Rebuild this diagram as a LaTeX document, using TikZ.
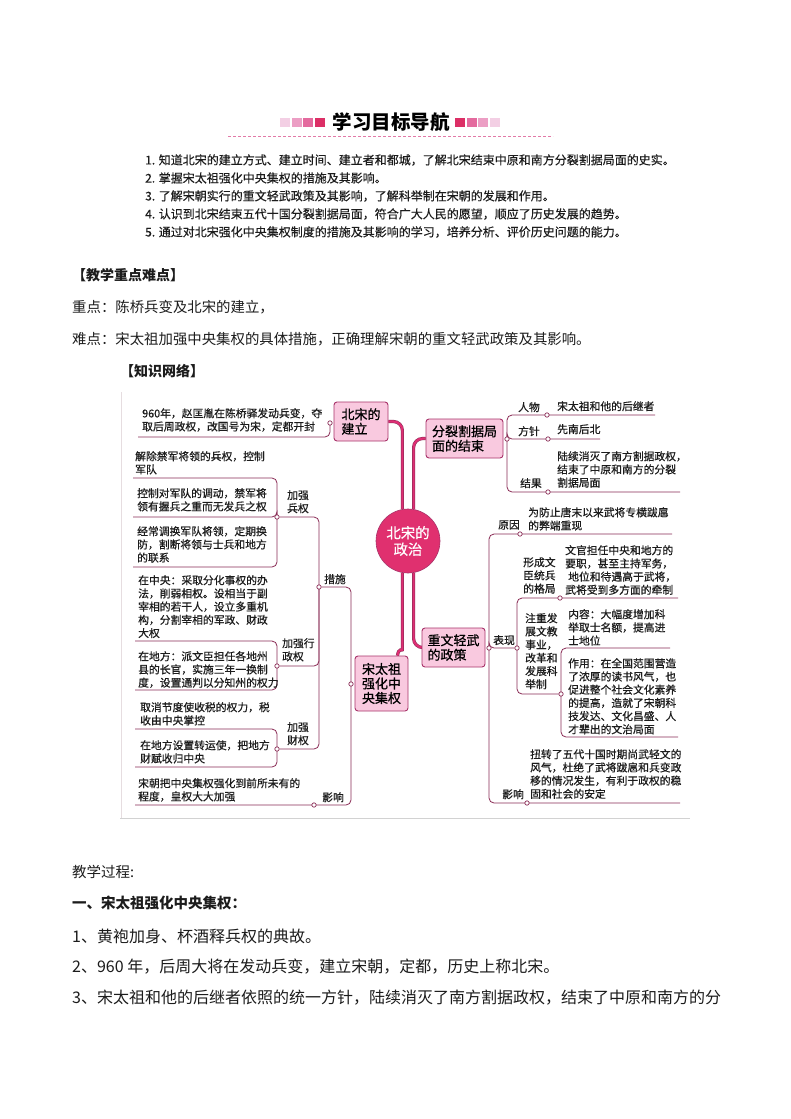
\documentclass[tikz,border=0pt]{standalone}
\usepackage{fontspec}
\setmainfont{Noto Sans CJK SC}
\newfontfamily\mapfam{Noto Sans CJK SC}[FakeBold=0.7]
\newfontfamily\printfam{Noto Sans CJK SC}[FakeBold=0.35]
\usetikzlibrary{positioning, backgrounds}
\definecolor{mapPink}{HTML}{F9C9DF}
\definecolor{mapEdge}{HTML}{A8336A}
\definecolor{mapLine}{HTML}{8A2C55}
\definecolor{mapRoot}{HTML}{E0306F}
\definecolor{mapTrunk}{HTML}{DE2F74}
\definecolor{bodyInk}{HTML}{1C1C1C}
\definecolor{headDash}{HTML}{E27AA8}
\definecolor{scanEdge}{HTML}{E6DDE0}
\definecolor{sqA}{HTML}{F3CFE4}
\definecolor{sqB}{HTML}{EC9EC4}
\definecolor{sqC}{HTML}{E46A9E}
\definecolor{sqD}{HTML}{DC2F66}
\newcommand{\mapfont}{\mapfam\fontsize{10.8}{13.2}\selectfont}

\begin{document}
\begin{tikzpicture}[x=1pt, y=-1pt,
  body/.style={anchor=west, inner sep=0pt, text=bodyInk},
  topic/.style={draw=mapEdge, fill=mapPink, line width=0.9pt, rounded corners=3pt,
    inner sep=0pt, align=left, font=\mapfam\fontsize{13}{14.5}\selectfont},
  leaf/.style={anchor=north west, inner sep=0pt, align=left, font=\mapfont, text=bodyInk},
  dot/.style={circle, draw=mapLine, fill=white, line width=0.7pt, inner sep=0pt, minimum size=4.4pt},
  link/.style={draw=mapLine, line width=0.8pt, rounded corners=5pt},
  trunk/.style={draw=mapLine, line width=0.5pt, double=mapTrunk, double distance=2.2pt,
    rounded corners=9pt}]

\useasboundingbox (0,0) rectangle (790,1119);

% header of the goals
\foreach \c [count=\i] in {sqA,sqB,sqC,sqD}
  \fill[\c] ({268.5+11.5*\i},117.5) rectangle ++(10,9);
\foreach \c [count=\i] in {sqD,sqC,sqB,sqA}
  \fill[\c] ({443.5+11.5*\i},117.5) rectangle ++(10,9);
\node[inner sep=0pt, font=\fontsize{19.5}{20}\selectfont\bfseries] (goalTitle) at (391,122) {学习目标导航};
\draw[headDash, line width=0.8pt, dash pattern=on 3pt off 2pt] (228,136) -- (553,136);

\foreach \goal [count=\i] in {%
  {1. 知道北宋的建立方式、建立时间、建立者和都城，了解北宋结束中原和南方分裂割据局面的史实。},
  {2. 掌握宋太祖强化中央集权的措施及其影响。},
  {3. 了解宋朝实行的重文轻武政策及其影响，了解科举制在宋朝的发展和作用。},
  {4. 认识到北宋结束五代十国分裂割据局面，符合广大人民的愿望，顺应了历史发展的趋势。},
  {5. 通过对北宋强化中央集权制度的措施及其影响的学习，培养分析、评价历史问题的能力。}}
  \node[body, font=\printfam\fontsize{12}{12}\selectfont] (goal\i) at (145,{142+18*\i}) {\goal};

\node[body, font=\fontsize{14}{14}\selectfont\bfseries] (keyHead) at (72,275) {【教学重点难点】};
\node[body, font=\fontsize{14.4}{15}\selectfont] (keyPoint) at (72,307) {重点：陈桥兵变及北宋的建立，};
\node[body, font=\fontsize{14.4}{15}\selectfont] (hardPoint) at (72,339)
  {难点：宋太祖加强中央集权的具体措施，正确理解宋朝的重文轻武政策及其影响。};
\node[body, font=\fontsize{14}{14}\selectfont\bfseries] (netHead) at (120,371) {【知识网络】};

% mind map
\node[circle, fill=mapRoot, draw=mapEdge, line width=0.6pt, minimum size=64pt, inner sep=0pt,
  text=white, align=center, font=\mapfam\fontsize{14.4}{16.5}\selectfont] (politics) at (408,541) {北宋的\\政治};
\node[topic, minimum width=54pt, minimum height=39pt] (founding) at (361,421.5) {北宋的\\建立};
\node[topic, minimum width=77pt, minimum height=39pt] (unify) at (464.5,438.5) {分裂割据局\\面的结束};
\node[topic, minimum width=63pt, minimum height=39pt] (civil) at (453.5,647.5) {重文轻武\\的政策};
\node[topic, minimum width=53pt, minimum height=55pt] (central) at (381.5,683.5) {宋太祖\\强化中\\央集权};

\node[dot] (dotFound) at (330,423) {};
\node[dot] (dotCentral) at (351,684) {};
\node[dot] (dotMeasure) at (319,587) {};
\node[dot] (dotMil) at (277,517) {};
\node[dot] (dotAdm) at (277,666) {};
\node[dot] (dotFin) at (277,749) {};
\node[dot] (dotImpL) at (314,805) {};
\node[dot] (dotUnify) at (507,439) {};
\node[dot] (dotRen) at (547,415) {};
\node[dot] (dotFang) at (548,439) {};
\node[dot] (dotJie) at (548,492) {};
\node[dot] (dotCivil) at (489,648) {};
\node[dot] (dotReason) at (520,534) {};
\node[dot] (dotShow) at (517,648) {};
\node[dot] (dotForm) at (560,598) {};
\node[dot] (dotEdu) at (561,694) {};
\node[dot] (dotImpR) at (527,803) {};

\coordinate (endFound) at (138,437);
\coordinate (endMilA) at (133,478);
\coordinate (endMilB) at (133,517);
\coordinate (endMilC) at (133,567);
\coordinate (endAdmA) at (135,641);
\coordinate (endAdmB) at (135,690);
\coordinate (endFinA) at (135,729);
\coordinate (endFinB) at (135,767);
\coordinate (endImpL) at (135,805);
\coordinate (endRen) at (655,415);
\coordinate (endFang) at (600,439);
\coordinate (endJie) at (680,492);
\coordinate (endReason) at (672,534);
\coordinate (endForm) at (678,598);
\coordinate (endContent) at (670,648);
\coordinate (endEffect) at (678,737);
\coordinate (endImpR) at (680,803);

% left side
\node[leaf] (txtFound) at (142,408) {960年，赵匡胤在陈桥驿发动兵变，夺\\取后周政权，改国号为宋，定都开封};
\node[leaf] (txtMilA) at (135,451) {解除禁军将领的兵权，控制\\军队};
\node[leaf] (txtMilB) at (137,488) {控制对军队的调动，禁军将\\领有握兵之重而无发兵之权};
\node[leaf] (txtMilC) at (137,526) {经常调换军队将领，定期换\\防，割断将领与士兵和地方\\的联系};
\node[leaf] (txtAdmA) at (138,575) {在中央：采取分化事权的办\\法，削弱相权。设相当于副\\宰相的若干人，设立多重机\\构，分割宰相的军政、财政\\大权};
\node[leaf] (txtAdmB) at (138,651) {在地方：派文臣担任各地州\\县的长官，实施三年一换制\\度，设置通判以分知州的权力};
\node[leaf] (txtFinA) at (140,702) {取消节度使收税的权力，税\\收由中央掌控};
\node[leaf] (txtFinB) at (140,740) {在地方设置转运使，把地方\\财赋收归中央};
\node[leaf] (txtImpL) at (138,778) {宋朝把中央集权强化到前所未有的\\程度，皇权大大加强};
\node[leaf] (lblMil) at (287,490) {加强\\兵权};
\node[leaf] (lblAdm) at (282,638) {加强行\\政权};
\node[leaf] (lblFin) at (287,722) {加强\\财权};
\node[leaf] (lblMeasure) at (324,574) {措施};
\node[leaf] (lblImpL) at (322,792) {影响};

% right side
\node[leaf] (lblRen) at (518,402) {人物};
\node[leaf] (txtRen) at (557,401) {宋太祖和他的后继者};
\node[leaf] (lblFang) at (518,426) {方针};
\node[leaf] (txtFang) at (557,424) {先南后北};
\node[leaf] (lblJie) at (520,478) {结果};
\node[leaf] (txtJie) at (557,451) {陆续消灭了南方割据政权，\\结束了中原和南方的分裂\\割据局面};
\node[leaf] (lblReason) at (498,520) {原因};
\node[leaf] (txtReason) at (528,507) {为防止唐末以来武将专横跋扈\\的弊端重现};
\node[leaf] (lblForm) at (523,557) {形成文\\臣统兵\\的格局};
\node[leaf] (txtForm) at (565,545) {文官担任中央和地方的\\要职，甚至主持军务，\\\hspace{3pt}地位和待遇高于武将，\\武将受到多方面的牵制};
\node[leaf] (lblShow) at (493,635) {表现};
\node[leaf] (lblEdu) at (525,613) {注重发\\展文教\\事业，\\改革和\\发展科\\举制};
\node[leaf] (txtContent) at (568,609) {内容：大幅度增加科\\举取士名额，提高进\\士地位};
\node[leaf] (txtEffect) at (568,658) {作用：在全国范围营造\\了浓厚的读书风气，也\\促进整个社会文化素养\\的提高，造就了宋朝科\\技发达、文化昌盛、人\\才辈出的文治局面};
\node[leaf] (lblImpR) at (502,789) {影响};
\node[leaf] (txtImpR) at (530,749) {扭转了五代十国时期尚武轻文的\\风气，杜绝了武将跋扈和兵变政\\移的情况发生，有利于政权的稳\\固和社会的安定};

\begin{scope}[on background layer]
\fill[white] (0,0) rectangle (790,1119);
\draw[scanEdge, line width=1pt] (121,392) -- (121,818);
\draw[gray!35, line width=0.8pt] (120,818) -- (690,818);

\draw[trunk] (politics.100) |- (founding.east);
\draw[trunk] (politics.80) |- (unify.west);
\draw[trunk] (politics.260) -- ++(0,68) .. controls +(0,10) and +(1,-8) .. ([xshift=16pt]central.north);
\draw[trunk] (politics.280) |- (civil.west);

\draw[link] (dotFound.center) |- (endFound);
\draw[link] (dotCentral.center) |- (dotMeasure);
\draw[link] (dotCentral.center) |- (endImpL);
\draw[link] (dotMeasure.center) |- (dotMil);
\draw[link] (dotMeasure.center) |- (dotAdm);
\draw[link] (dotMeasure.center) |- (dotFin);
\draw[link] (dotMil.center) |- (endMilA);
\draw[link] (dotMil.center) |- (endMilB);
\draw[link] (dotMil.center) |- (endMilC);
\draw[link] (dotAdm.center) |- (endAdmA);
\draw[link] (dotAdm.center) |- (endAdmB);
\draw[link] (dotFin.center) |- (endFinA);
\draw[link] (dotFin.center) |- (endFinB);

\draw[link] (dotUnify.center) |- (endRen);
\draw[link] (dotUnify.center) |- (endFang);
\draw[link] (dotUnify.center) |- (endJie);
\draw[link] (dotCivil.center) |- (endReason);
\draw[link] (dotCivil.center) |- (dotShow);
\draw[link] (dotCivil.center) |- (endImpR);
\draw[link] (dotShow.center) |- (endForm);
\draw[link] (dotShow.center) |- (dotEdu);
\draw[link] (dotEdu.center) |- (endContent);
\draw[link] (dotEdu.center) |- (endEffect);
\end{scope}

\node[body, font=\fontsize{14.5}{15}\selectfont] (procHead) at (72,872) {教学过程:};
\node[body, font=\fontsize{14.5}{15}\selectfont\bfseries] (partOne) at (72,903) {一、宋太祖强化中央集权：};
\node[body, font=\fontsize{16}{16}\selectfont] (itemOne) at (72,936) {1、黄袍加身、杯酒释兵权的典故。};
\node[body, font=\fontsize{16}{16}\selectfont] (itemTwo) at (72,967) {2、960 年，后周大将在发动兵变，建立宋朝，定都，历史上称北宋。};
\node[body, font=\fontsize{16}{16}\selectfont] (itemThree) at (72,998)
  {3、宋太祖和他的后继者依照的统一方针，陆续消灭了南方割据政权，结束了中原和南方的分};
\end{tikzpicture}
\end{document}
